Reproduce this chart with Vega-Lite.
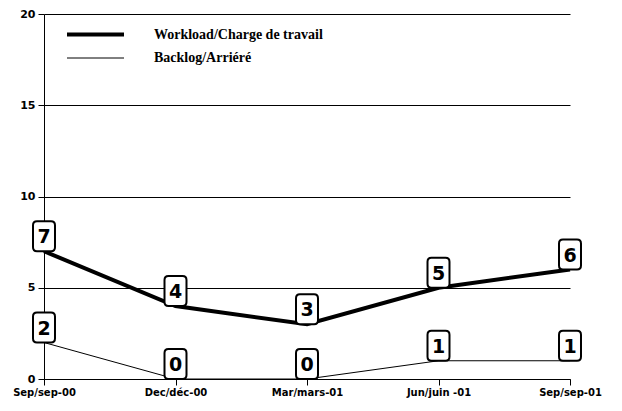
{
  "$schema": "https://vega.github.io/schema/vega-lite/v6.json",
  "width": 526,
  "height": 365,
  "autosize": {"type": "none"},
  "padding": {"left": 44, "top": 14, "right": 52, "bottom": 32},
  "background": "white",
  "config": {
    "view": {"stroke": null},
    "axis": {
      "domainColor": "black", "tickColor": "black", "gridColor": "black",
      "gridOpacity": 1, "domainWidth": 1, "tickWidth": 1, "gridWidth": 1,
      "labelFont": "DejaVu Sans", "labelFontWeight": "bold", "labelFontSize": 10,
      "labelColor": "black", "title": null
    }
  },
  "data": {
    "values": [
      {"date": "Sep/sep-00", "series": "Workload/Charge de travail", "value": 7},
      {"date": "Dec/déc-00", "series": "Workload/Charge de travail", "value": 4},
      {"date": "Mar/mars-01", "series": "Workload/Charge de travail", "value": 3},
      {"date": "Jun/juin -01", "series": "Workload/Charge de travail", "value": 5},
      {"date": "Sep/sep-01", "series": "Workload/Charge de travail", "value": 6},
      {"date": "Sep/sep-00", "series": "Backlog/Arriéré", "value": 2},
      {"date": "Dec/déc-00", "series": "Backlog/Arriéré", "value": 0},
      {"date": "Mar/mars-01", "series": "Backlog/Arriéré", "value": 0},
      {"date": "Jun/juin -01", "series": "Backlog/Arriéré", "value": 1},
      {"date": "Sep/sep-01", "series": "Backlog/Arriéré", "value": 1}
    ]
  },
  "encoding": {
    "x": {
      "field": "date", "type": "ordinal",
      "sort": ["Sep/sep-00", "Dec/déc-00", "Mar/mars-01", "Jun/juin -01", "Sep/sep-01"],
      "scale": {"type": "point", "padding": 0},
      "axis": {"labelAngle": 0, "tickSize": 6, "labelPadding": 2, "grid": false}
    },
    "y": {
      "field": "value", "type": "quantitative",
      "scale": {"domain": [0, 20], "nice": false},
      "axis": {"values": [0, 5, 10, 15, 20], "grid": true, "tickSize": 6, "labelPadding": 3, "labelFontSize": 11}
    }
  },
  "layer": [
    {
      "mark": {"type": "line", "color": "black"},
      "encoding": {
        "detail": {"field": "series"},
        "strokeWidth": {
          "field": "series", "type": "nominal",
          "scale": {"domain": ["Workload/Charge de travail", "Backlog/Arriéré"], "range": [4, 1]},
          "legend": {
            "title": null, "orient": "none", "legendX": 40, "legendY": 9,
            "symbolType": "M-3,0L3,0", "symbolSize": 361, "symbolStrokeColor": "black",
            "symbolFillColor": "transparent",
            "labelFont": "Liberation Serif", "labelFontWeight": "bold", "labelFontSize": 14,
            "labelColor": "black", "labelOffset": 47, "rowPadding": 5, "labelLimit": 400
          }
        }
      }
    },
    {
      "mark": {
        "type": "point", "filled": false, "fill": "white", "fillOpacity": 1,
        "stroke": "black", "strokeWidth": 2, "opacity": 1, "size": 900, "yOffset": -15,
        "shape": "M-0.47,-1 L0.47,-1 Q0.733,-1 0.733,-0.73 L0.733,0.73 Q0.733,1 0.47,1 L-0.47,1 Q-0.733,1 -0.733,0.73 L-0.733,-0.73 Q-0.733,-1 -0.47,-1 Z"
      }
    },
    {
      "mark": {
        "type": "text", "font": "DejaVu Sans", "fontWeight": "bold", "fontSize": 19,
        "color": "black", "baseline": "middle", "align": "center", "yOffset": -14
      },
      "encoding": {"text": {"field": "value", "type": "quantitative"}}
    }
  ]
}
